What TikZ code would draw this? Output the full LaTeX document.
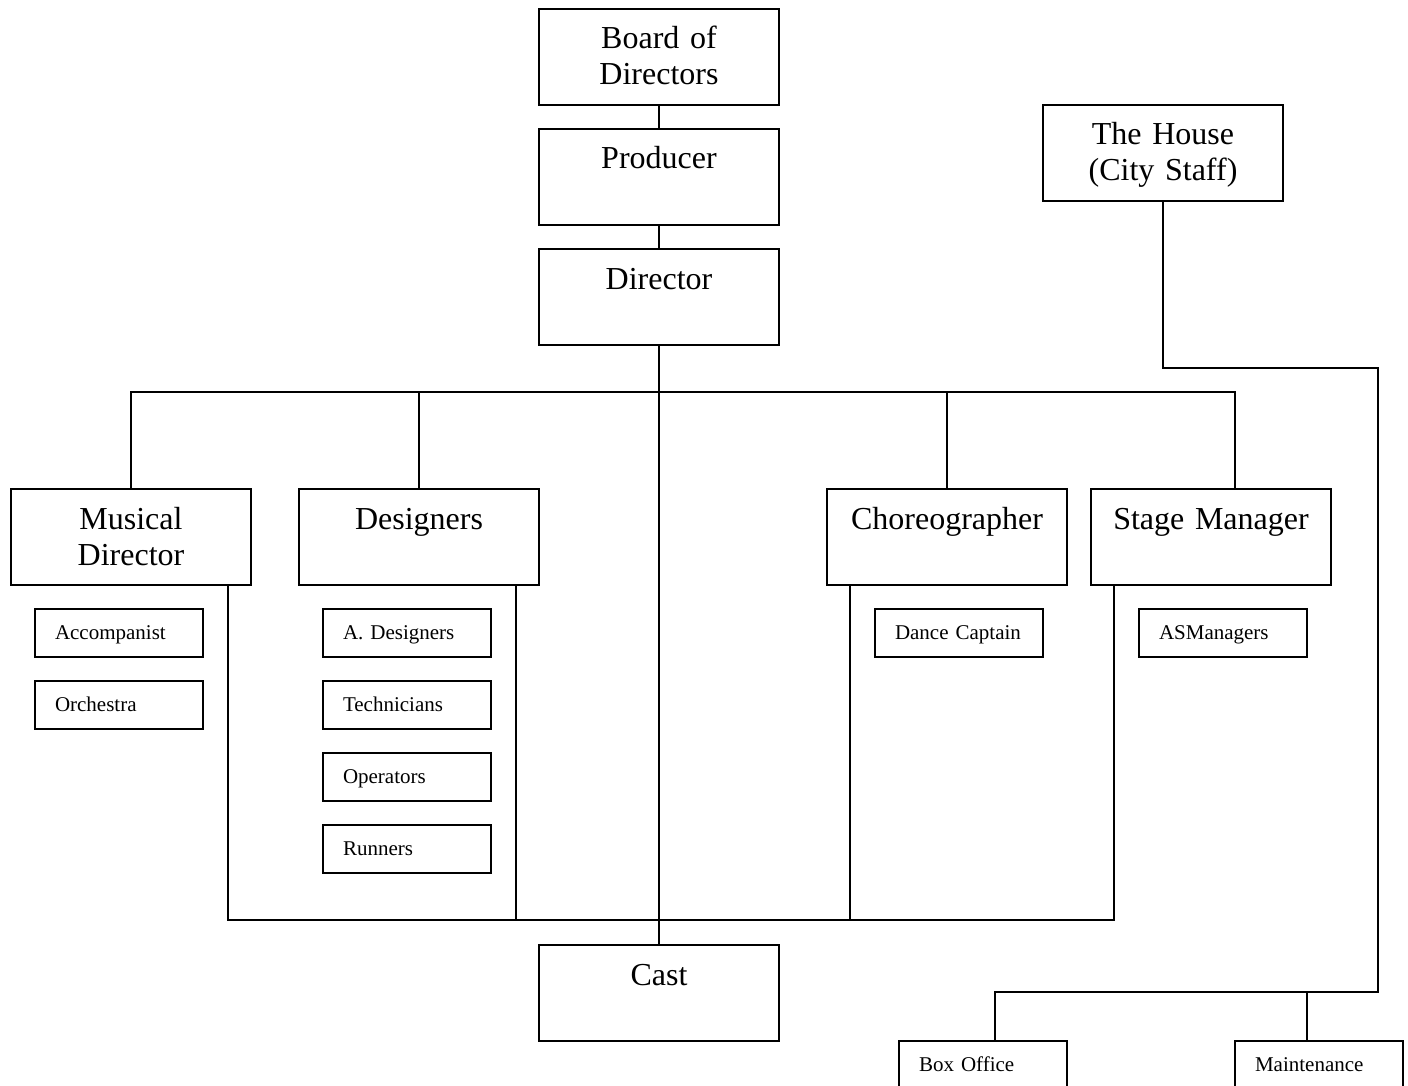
\documentclass[tikz,border=0pt]{standalone}
\usepackage{fontspec}
\setmainfont{Liberation Serif}
\begin{document}
\begin{tikzpicture}[x=1pt,y=-1pt,line width=2pt,
  bigbox/.style={draw,rectangle,inner sep=0pt,minimum width=240pt,minimum height=96pt,
    text width=240pt,align=center,text height=40pt,text depth=56pt,
    font=\fontsize{32}{36}\selectfont,anchor=north west},
  smallbox/.style={draw,rectangle,inner xsep=20pt,inner ysep=0pt,text width=128pt,
    align=left,minimum height=48pt,text height=30pt,text depth=18pt,
    font=\fontsize{21}{25}\selectfont,anchor=north west}]
\useasboundingbox (0,0) rectangle (1408,1086);

% main chain
\node[bigbox] (board) at (538,8)   {Board of\\Directors};
\node[bigbox] (prod)  at (538,128) {Producer};
\node[bigbox] (dir)   at (538,248) {Director};
\node[bigbox] (cast)  at (538,944) {Cast};

% department heads
\node[bigbox] (md)  at (10,488)   {Musical\\Director};
\node[bigbox] (des) at (298,488)  {Designers};
\node[bigbox] (cho) at (826,488)  {Choreographer};
\node[bigbox] (sm)  at (1090,488) {Stage Manager};

% house
\node[bigbox] (house) at (1042,104) {The House\\(City Staff)};

% staff
\node[smallbox] (acc)  at (34,608)   {Accompanist};
\node[smallbox] (orc)  at (34,680)   {Orchestra};
\node[smallbox] (ades) at (322,608)  {A. Designers};
\node[smallbox] (tech) at (322,680)  {Technicians};
\node[smallbox] (oper) at (322,752)  {Operators};
\node[smallbox] (run)  at (322,824)  {Runners};
\node[smallbox] (dcap) at (874,608)  {Dance Captain};
\node[smallbox] (asm)  at (1138,608) {ASManagers};
\node[smallbox] (boxo) at (898,1040) {Box Office};
\node[smallbox] (mnt)  at (1234,1040) {Maintenance};

% bus levels
\coordinate (topbus) at (0,392);
\coordinate (lowbus) at (0,920);
\coordinate (housebus) at (0,992);
\coordinate (houseturn) at (1378,368);

% connectors
\draw (board.south) -- (prod.north);
\draw (prod.south) -- (dir.north);
\draw (dir.south) -- (cast.north);

\draw (md.north) |- ([xshift=24pt]sm.north |- topbus) -- ([xshift=24pt]sm.north);
\draw (des.north) -- (des.north |- topbus);
\draw (cho.north) -- (cho.north |- topbus);

\draw ([xshift=-24pt]md.south east) |- ([xshift=24pt]sm.south west |- lowbus) -- ([xshift=24pt]sm.south west);
\draw ([xshift=-24pt]des.south east) -- ([xshift=-24pt]des.south east |- lowbus);
\draw ([xshift=24pt]cho.south west) -- ([xshift=24pt]cho.south west |- lowbus);

\draw (house.south) |- (houseturn) |- ([xshift=12pt]boxo.north |- housebus) -- ([xshift=12pt]boxo.north);
\draw ([xshift=-12pt]mnt.north |- housebus) -- ([xshift=-12pt]mnt.north);
\end{tikzpicture}
\end{document}
